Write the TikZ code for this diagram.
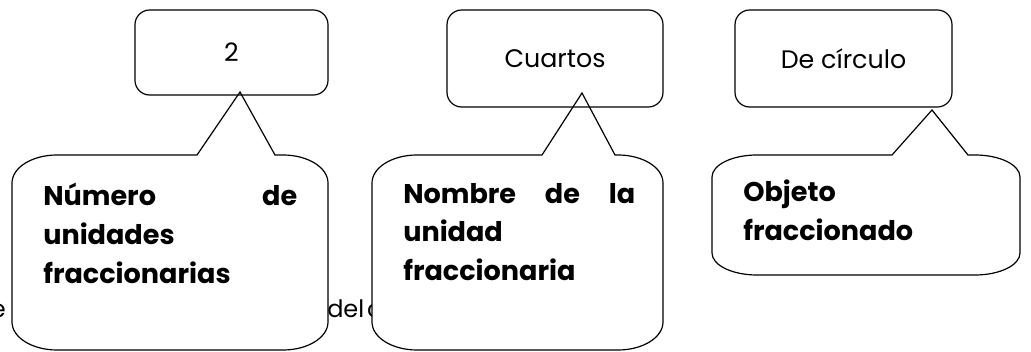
\documentclass[tikz,border=0pt]{standalone}
\usepackage{fontspec}
\setmainfont{Poppins}
\usetikzlibrary{positioning}

\tikzset{
  labelbox/.style={draw,rounded corners=11pt,line width=0.9pt,inner sep=0pt,font=\fontsize{19}{22}\selectfont},
  bubble/.style={draw,fill=white,line width=0.9pt,line join=miter},
  bubbletext/.style={anchor=north west,inner sep=0pt,align=left,font=\bfseries\fontsize{20.3}{29}\selectfont},
  backtext/.style={inner sep=0pt,font=\fontsize{18}{22}\selectfont}
}

\begin{document}
\begin{tikzpicture}[line cap=round,x=0.75pt,y=-0.75pt]
\useasboundingbox (0,0) rectangle (1031,352);
% texto tapado
\node[backtext,anchor=base east] (fondoa) at (6,318) {e};
\node[backtext,anchor=base west] (fondob) at (327,318) {del\hspace{0.12em}c};
% puntas de los globos
\coordinate (puntaA) at (240,92);
\coordinate (puntaB) at (582,93);
\coordinate (puntaC) at (932,110);
% globos
\draw[bubble] (57,155) -- (197,155) -- (puntaA) -- (275,155) -- (283,155)
  arc[start angle=-90,end angle=0,x radius=45,y radius=28] -- (328,322)
  arc[start angle=0,end angle=90,x radius=45,y radius=28] -- (57,350)
  arc[start angle=90,end angle=180,x radius=45,y radius=28] -- (12,183)
  arc[start angle=180,end angle=270,x radius=45,y radius=28] -- cycle;
\draw[bubble] (417,155) -- (542,155) -- (puntaB) -- (615,155) -- (618,155)
  arc[start angle=-90,end angle=0,x radius=45,y radius=28] -- (663,322)
  arc[start angle=0,end angle=90,x radius=45,y radius=28] -- (417,350)
  arc[start angle=90,end angle=180,x radius=45,y radius=28] -- (372,183)
  arc[start angle=180,end angle=270,x radius=45,y radius=28] -- cycle;
\draw[bubble] (757,155) -- (892,155) -- (puntaC) -- (968,155) -- (975,155)
  arc[start angle=-90,end angle=0,x radius=45,y radius=22] -- (1020,253)
  arc[start angle=0,end angle=90,x radius=45,y radius=22] -- (757,275)
  arc[start angle=90,end angle=180,x radius=45,y radius=22] -- (712,177)
  arc[start angle=180,end angle=270,x radius=45,y radius=22] -- cycle;
% cajas de arriba
\node[labelbox,minimum width=144.75pt,minimum height=63.75pt] (dos) at (231.5,52.5) {\raisebox{-3pt}{2}};
\node[labelbox,minimum width=162pt,minimum height=72.75pt] (cuartos) at (555,58.5) {Cuartos};
\node[labelbox,minimum width=162.75pt,minimum height=72.75pt] (circulo) at (843.5,58.5) {De círculo};
% textos de los globos
\node[bubbletext,text width=190.5pt] (numero) at (43,183) {Número\hfill de\\unidades\\fraccionarias};
\node[bubbletext,text width=174pt] (nombre) at (403,183) {Nombre\hfill de\hfill la\\unidad\\fraccionaria};
\node[bubbletext] (objeto) at (743,180) {Objeto\\fraccionado};
\end{tikzpicture}
\end{document}
